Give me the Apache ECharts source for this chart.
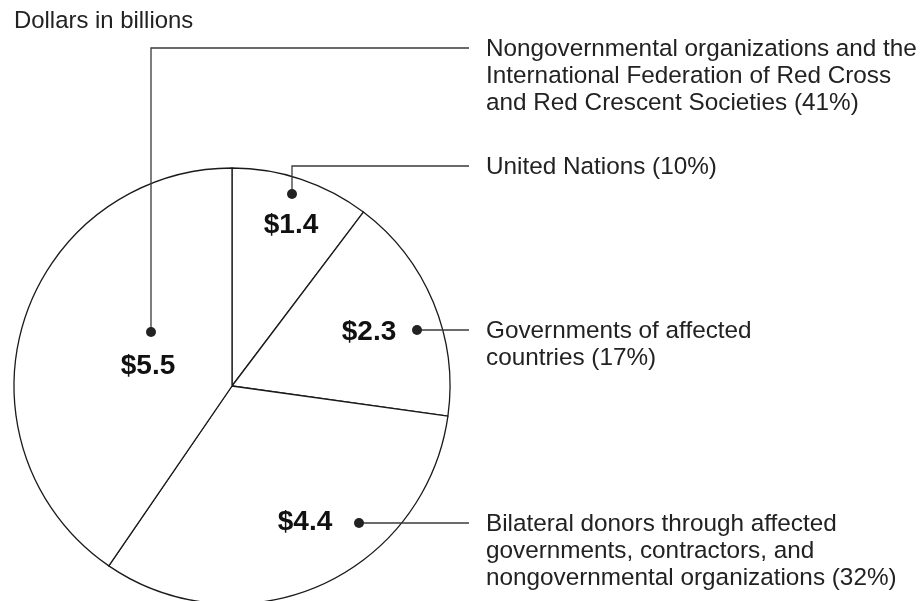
<!DOCTYPE html>
<html>
<head>
<meta charset="utf-8">
<title>Dollars in billions</title>
<script src="https://cdn.jsdelivr.net/npm/echarts@6/dist/echarts.min.js"></script>
<style>
  html, body { margin: 0; padding: 0; background: #fff; }
  #main { width: 924px; height: 601px; }
</style>
</head>
<body>
<div id="main"></div>
<script>
// data, clockwise from 12 o'clock
const categories = [
  "United Nations (10%)",
  "Governments of affected\ncountries (17%)",
  "Bilateral donors through affected\ngovernments, contractors, and\nnongovernmental organizations (32%)",
  "Nongovernmental organizations and the\nInternational Federation of Red Cross\nand Red Crescent Societies (41%)"
];
const values = [1.4, 2.3, 4.4, 5.5];
const valueLabels = ["$1.4", "$2.3", "$4.4", "$5.5"];

// layout of the annotations
const pieCenter = [232, 386];
const pieRadius = 218;
const labelPos = [[291, 225], [369, 332], [305, 522], [148, 366]];
const dotPos = [[292, 194], [417, 330], [359, 523], [151, 332]];
const stubY = [166, 330, 523, 48];
const lineEndX = 469;
const textX = 486;
const lineH = 27;

const font = "'Liberation Sans', Arial, Helvetica, sans-serif";
const ink = "#222";

let chart = echarts.init(document.getElementById("main"), null, { renderer: "canvas" });

// leader lines, dots and category text (above the pie)
let graphics = [];
categories.forEach(function (name, i) {
  let d = dotPos[i];
  let pts = [d];
  if (Math.abs(stubY[i] - d[1]) > 2) pts.push([d[0], stubY[i]]);
  pts.push([lineEndX, stubY[i]]);
  graphics.push({
    type: "polyline",
    silent: true,
    z: 100,
    shape: { points: pts },
    style: { stroke: "#3a3a3a", lineWidth: 1.3, fill: null }
  });
  graphics.push({
    type: "circle",
    silent: true,
    z: 101,
    shape: { cx: d[0], cy: d[1], r: 5 },
    style: { fill: ink }
  });
  graphics.push({
    type: "text",
    silent: true,
    z: 100,
    x: textX,
    y: stubY[i] - lineH / 2 + 1,
    style: {
      text: name,
      font: "24.3px " + font,
      fill: ink,
      lineHeight: lineH,
      verticalAlign: "top",
      align: "left"
    }
  });
});

chart.setOption({
  animation: false,
  title: {
    text: "Dollars in billions",
    left: 14,
    top: 9,
    padding: 0,
    textStyle: { fontFamily: font, fontSize: 23.9, fontWeight: "normal", color: ink }
  },
  graphic: graphics,
  series: [
    {
      type: "pie",
      center: pieCenter,
      radius: pieRadius,
      startAngle: 90,
      clockwise: true,
      silent: true,
      emphasis: { disabled: true },
      itemStyle: { color: "#fff", borderColor: "#1a1a1a", borderWidth: 1.3 },
      label: {
        show: true,
        position: "inside",
        formatter: function (p) { return valueLabels[p.dataIndex]; },
        fontFamily: font,
        fontSize: 28,
        fontWeight: "bold",
        color: "#111"
      },
      labelLine: { show: false },
      labelLayout: function (p) {
        return {
          x: labelPos[p.dataIndex][0],
          y: labelPos[p.dataIndex][1],
          align: "center",
          verticalAlign: "middle"
        };
      },
      data: values.map(function (v, i) { return { name: valueLabels[i], value: v }; })
    }
  ]
});
</script>
</body>
</html>
